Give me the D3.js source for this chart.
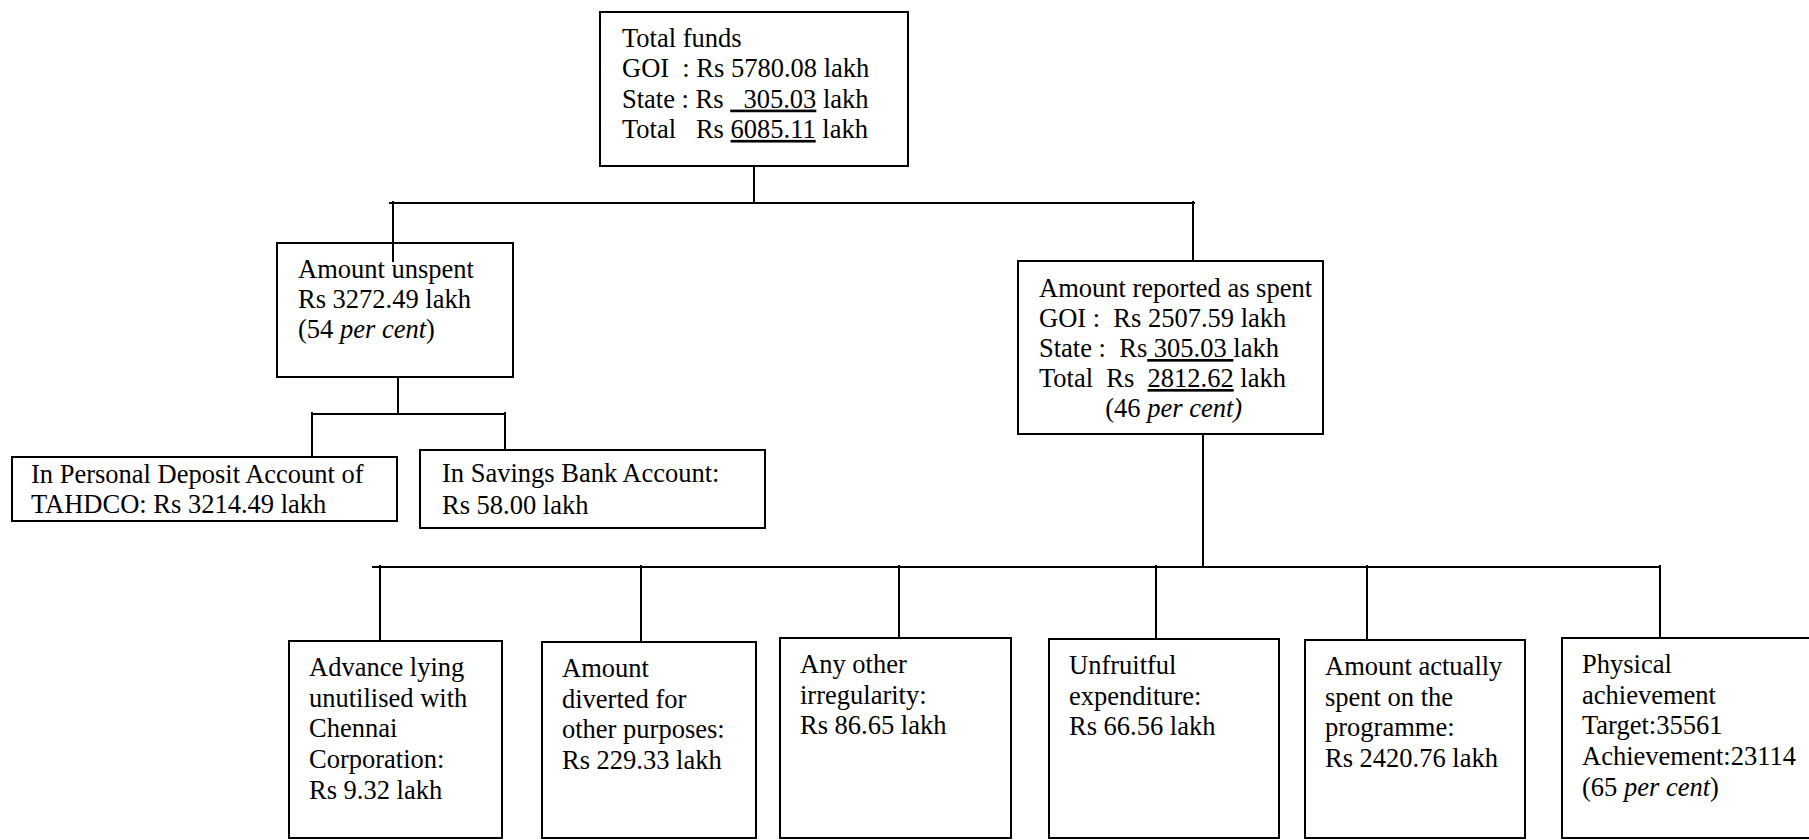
<!DOCTYPE html>
<html>
<head>
<meta charset="utf-8">
<script src="https://cdn.jsdelivr.net/npm/d3@7"></script>
<style>
  body { margin: 0; background: #fff; }
  text { font-family: "Liberation Serif", "Times New Roman", serif; font-size: 26.5px; fill: #000; white-space: pre; }
</style>
</head>
<body>
<svg id="viz"></svg>
<script>
// box texts: {..} = underlined, |..| = italic
var topLines = ["Total funds", "GOI  : Rs 5780.08 lakh", "State : Rs {  305.03} lakh", "Total   Rs {6085.11} lakh"]
var unspentLines = ["Amount unspent", "Rs 3272.49 lakh", "(54 |per cent|)"]
var spentLines = ["Amount reported as spent", "GOI :  Rs 2507.59 lakh", "State :  Rs{ 305.03 }lakh", "Total  Rs  {2812.62} lakh", "          (46 |per cent)|"]
var pdaLines = ["In Personal Deposit Account of", "TAHDCO: Rs 3214.49 lakh"]
var savingsLines = ["In Savings Bank Account:", "Rs 58.00 lakh"]
var spentParts = [
  ["Advance lying", "unutilised with", "Chennai", "Corporation:", "Rs 9.32 lakh"],
  ["Amount", "diverted for", "other purposes:", "Rs 229.33 lakh"],
  ["Any other", "irregularity:", "Rs 86.65 lakh"],
  ["Unfruitful", "expenditure:", "Rs 66.56 lakh"],
  ["Amount actually", "spent on the", "programme:", "Rs 2420.76 lakh"],
  ["Physical", "achievement", "Target:35561", "Achievement:23114", "(65 |per cent|)"]
]

var width = 1809
var height = 840

var svg = d3.select("#viz")
  .attr("width", width)
  .attr("height", height)

// layout of boxes (x, y, w, h, text offset, first baseline, line step)
var boxes = [
  {lines: topLines, x: 600, y: 12, w: 308, h: 154, tx: 22, ty: 35, step: 30.3},
  {lines: unspentLines, x: 277, y: 243, w: 236, h: 134, tx: 21, ty: 35, step: 30},
  {lines: spentLines, x: 1018, y: 261, w: 305, h: 173, tx: 21, ty: 36, step: 30},
  {lines: pdaLines, x: 12, y: 457, w: 385, h: 64, tx: 19, ty: 26, step: 30},
  {lines: savingsLines, x: 420, y: 450, w: 345, h: 78, tx: 22, ty: 32, step: 32}
]

var bottomX = [289, 542, 780, 1049, 1305, 1562]
var bottomW = [213, 214, 231, 230, 220, 260]
var bottomY = [641, 642, 638, 639, 640, 638]
spentParts.forEach(function(lines, i) {
  boxes.push({lines: lines, x: bottomX[i], y: bottomY[i], w: bottomW[i], h: 838 - bottomY[i], tx: 20, ty: 35, step: 30.7})
})

// connector trees: parent drop, bar, child drops
var trees = [
  {px: 754, py0: 166, barY: 203, barX: [389, 1195], kids: [[393, 262], [1193, 261]]},
  {px: 398, py0: 377, barY: 414, barX: [312, 506], kids: [[312, 457], [505, 450]]},
  {px: 1203, py0: 434, barY: 567, barX: [372, 1660], kids: [[380, 641], [641, 642], [899, 638], [1156, 639], [1367, 640], [1660, 638]]}
]

function parseLine(str) {
  var segs = []
  var cur = "", u = false, it = false
  for (var c of str) {
    if (c == "{" || c == "}" || c == "|") {
      if (cur.length) segs.push({t: cur, u: u, i: it})
      cur = ""
      if (c == "{") u = true
      else if (c == "}") u = false
      else it = !it
    } else cur += c
  }
  if (cur.length) segs.push({t: cur, u: u, i: it})
  return segs
}

var g = svg.append("g")

boxes.forEach(function(b) {
  g.append("rect")
    .attr("x", b.x).attr("y", b.y)
    .attr("width", b.w).attr("height", b.h)
    .attr("fill", "none")
    .attr("stroke", "#000")
    .attr("stroke-width", 2)

  b.lines.forEach(function(line, j) {
    var t = g.append("text")
      .attr("x", b.x + b.tx)
      .attr("y", b.y + b.ty + j * b.step)
      .attr("xml:space", "preserve")
    parseLine(line).forEach(function(s) {
      t.append("tspan")
        .text(s.t)
        .style("text-decoration", s.u ? "underline" : null)
        .style("font-style", s.i ? "italic" : null)
    })
  })
})

trees.forEach(function(tr) {
  g.append("line")
    .attr("x1", tr.px).attr("x2", tr.px)
    .attr("y1", tr.py0).attr("y2", tr.barY)
  g.append("line")
    .attr("x1", tr.barX[0]).attr("x2", tr.barX[1])
    .attr("y1", tr.barY).attr("y2", tr.barY)
  tr.kids.forEach(function(k) {
    g.append("line")
      .attr("x1", k[0]).attr("x2", k[0])
      .attr("y1", tr.barY - 2).attr("y2", k[1])
  })
})

g.selectAll("line")
  .attr("stroke", "#000")
  .attr("stroke-width", 2)
</script>
</body>
</html>
